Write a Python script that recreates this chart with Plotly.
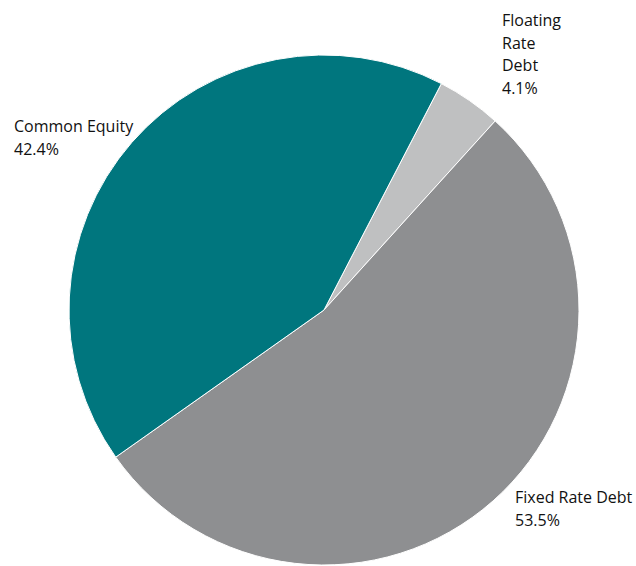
import plotly.graph_objects as go

# Data
labels = ["Floating Rate Debt", "Fixed Rate Debt", "Common Equity"]
values = [4.1, 53.5, 42.4]
colors = ["#BFC0C1", "#8E8F91", "#00767E"]

W, H = 636, 566
cx, cy, r = 324, 310, 255

fig = go.Figure(go.Pie(
    labels=labels,
    values=values,
    sort=False,
    direction="clockwise",
    rotation=27.4,
    marker=dict(colors=colors, line=dict(color="white", width=1)),
    textinfo="none",
    hoverinfo="label+percent",
    showlegend=False,
    domain=dict(x=[(cx - r) / W, (cx + r) / W], y=[(H - cy - r) / H, (H - cy + r) / H]),
))

# Label placement (layout): left x, first line cap-middle y, whether to wrap words
label_pos = {
    "Floating Rate Debt": (500, 20, True),
    "Fixed Rate Debt": (513, 497, False),
    "Common Equity": (12, 126, False),
}
line_gap = 22.6
annotations = []
for lab, val in zip(labels, values):
    x0, y0, wrap = label_pos[lab]
    lines = (lab.split(" ") if wrap else [lab]) + [f"{val:.1f}%"]
    for i, t in enumerate(lines):
        annotations.append(dict(
            text=t, x=x0 / W, y=1 - (y0 + i * line_gap) / H,
            xref="paper", yref="paper", xanchor="left", yanchor="middle",
            showarrow=False, align="left",
            font=dict(family="Open Sans", size=16, color="#111111"),
        ))

fig.update_layout(
    width=W, height=H,
    margin=dict(l=0, r=0, t=0, b=0),
    paper_bgcolor="white", plot_bgcolor="white",
    annotations=annotations,
)

fig.write_html("out.html", config={"displayModeBar": False},
               post_script="document.body.style.margin='0';")
